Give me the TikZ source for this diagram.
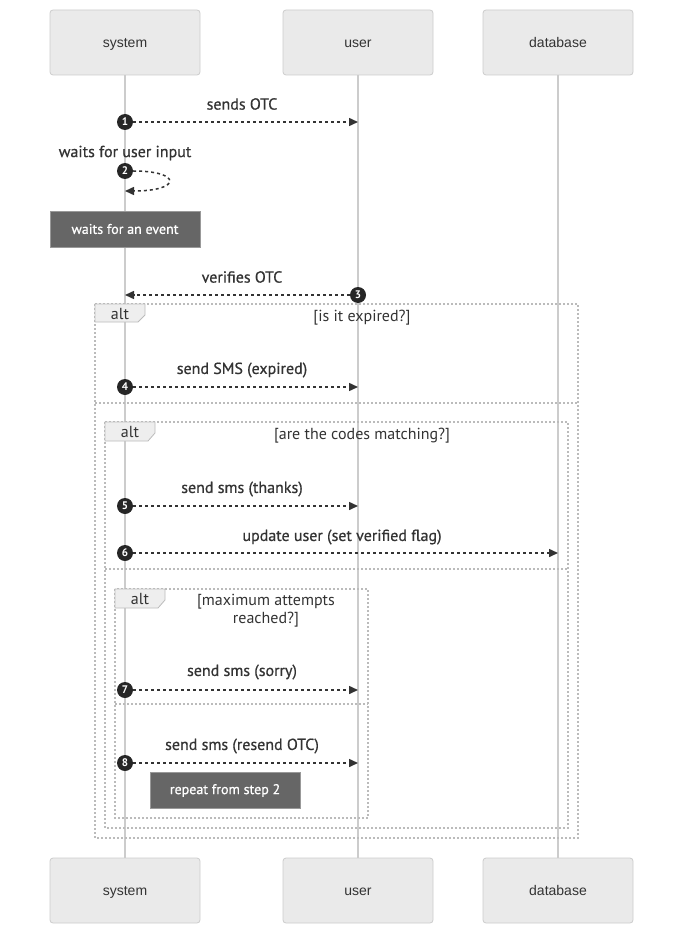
\documentclass[tikz,border=0pt]{standalone}
\usepackage{fontspec}
\setmainfont{PT Sans}
\newfontfamily\msgfont[FakeBold=0.7]{PT Sans}
\newfontfamily\actorfont{Liberation Sans}
\usetikzlibrary{arrows.meta}
\definecolor{actorfill}{HTML}{EAEAEA}
\definecolor{actorline}{HTML}{CCCCCC}
\definecolor{lifeline}{HTML}{CCCCCC}
\definecolor{msgline}{HTML}{333333}
\definecolor{notefill}{HTML}{666666}
\definecolor{notebord}{HTML}{999999}
\definecolor{altline}{HTML}{BBBBBB}
\definecolor{tabfill}{HTML}{EEEEEE}
\definecolor{txt}{HTML}{333333}
\tikzset{
  actor/.style={draw=actorline, fill=actorfill, rounded corners=3pt, line width=0.8pt,
    minimum width=150pt, minimum height=65pt, inner sep=0pt,
    text height=10pt, text depth=3pt,
    font=\actorfont\fontsize{14}{16}\selectfont, text=txt},
  life/.style={draw=lifeline, line width=1.3pt},
  msg/.style={draw=msgline, line width=1.5pt, dash pattern=on 3pt off 3pt,
    -{Triangle[length=9pt,width=8pt]}},
  num/.style={circle, fill=black!85, inner sep=0pt, minimum size=16pt,
    text=white, font=\bfseries\fontsize{11}{11}\selectfont},
  mlabel/.style={font=\msgfont\fontsize{16}{18}\selectfont, text=txt, inner sep=0pt},
  note/.style={draw=notebord, fill=notefill, line width=0.8pt, text=white,
    minimum height=36pt, inner sep=0pt, font=\msgfont\fontsize{14}{16}\selectfont},
  altbox/.style={draw=altline, line width=1.2pt, dash pattern=on 2pt off 2pt},
  alttab/.style={draw=altline, line width=0.8pt, fill=tabfill},
  altlabel/.style={font=\fontsize{16}{18}\selectfont, text=txt, inner sep=0pt},
}
\begin{document}
\begin{tikzpicture}[x=1pt, y=-1pt]
\useasboundingbox (0,0) rectangle (683,925);

% participants
\node[actor] (sysTop) at (125,42.5) {\raisebox{-1.5pt}{system}};
\node[actor] (userTop) at (358,42.5) {\raisebox{-1.5pt}{user}};
\node[actor] (dbTop) at (558,42.5) {\raisebox{-1.5pt}{database}};
\node[actor] (sysBot) at (125,890.5) {\raisebox{-1.5pt}{system}};
\node[actor] (userBot) at (358,890.5) {\raisebox{-1.5pt}{user}};
\node[actor] (dbBot) at (558,890.5) {\raisebox{-1.5pt}{database}};

% lifelines
\draw[life] (sysTop) -- (sysBot);
\draw[life] (userTop) -- (userBot);
\draw[life] (dbTop) -- (dbBot);

% alt frames
\draw[altbox] (95,304) rectangle (578,838);
\draw[alttab] (95,304) -- (145,304) -- (145,315) -- (138,322) -- (95,322) -- cycle;
\node[altlabel] (alt1) at (120,313.5) {alt};
\node[altlabel] (guard1) at (362,318) {[is it expired?]};
\draw[altbox] (95,403) -- (578,403);

\draw[altbox] (105,422) rectangle (568,828);
\draw[alttab] (105,422) -- (155,422) -- (155,433) -- (148,441) -- (105,441) -- cycle;
\node[altlabel] (alt2) at (130,431.5) {alt};
\node[altlabel] (guard2) at (362,436) {[are the codes matching?]};
\draw[altbox] (105,569) -- (568,569);

\draw[altbox] (115,589) rectangle (368,818);
\draw[alttab] (115,589) -- (165,589) -- (165,600) -- (158,608) -- (115,608) -- cycle;
\node[altlabel] (alt3) at (140,598.5) {alt};
\node[altlabel, align=center] (guard3) at (266,611) {[maximum attempts\\reached?]};
\draw[altbox] (115,704) -- (368,704);

% message 1
\node[mlabel] (l1) at (242,104) {sends OTC};
\coordinate (e1) at (358,122);
\node[num] (n1) at (125,122) {1};
\draw[msg] (n1) -- (e1);

% message 2 (self)
\node[mlabel] (l2) at (125,153) {waits for user input};
\coordinate (e2) at (125,191);
\node[num] (n2) at (125,171) {2};
\draw[msg] (n2.east) .. controls (182,171) and (182,191) .. (e2);

% note
\node[note, minimum width=150pt] (note1) at (125,229) {waits for an event};

% message 3
\node[mlabel] (l3) at (242,277) {verifies OTC};
\coordinate (e3) at (125,295);
\node[num] (n3) at (358,295) {3};
\draw[msg] (n3) -- (e3);

% message 4
\node[mlabel] (l4) at (242,370) {send SMS (expired)};
\coordinate (e4) at (358,387);
\node[num] (n4) at (125,387) {4};
\draw[msg] (n4) -- (e4);

% message 5
\node[mlabel] (l5) at (242,489) {send sms (thanks)};
\coordinate (e5) at (358,506);
\node[num] (n5) at (125,506) {5};
\draw[msg] (n5) -- (e5);

% message 6
\node[mlabel] (l6) at (342,537) {update user (set verified flag)};
\coordinate (e6) at (558,553);
\node[num] (n6) at (125,553) {6};
\draw[msg] (n6) -- (e6);

% message 7
\node[mlabel] (l7) at (242,672) {send sms (sorry)};
\coordinate (e7) at (358,690);
\node[num] (n7) at (125,690) {7};
\draw[msg] (n7) -- (e7);

% message 8
\node[mlabel] (l8) at (242,746) {send sms (resend OTC)};
\coordinate (e8) at (358,763);
\node[num] (n8) at (125,763) {8};
\draw[msg] (n8) -- (e8);

\node[note, minimum width=150pt] (note2) at (225,790.5) {repeat from step 2};
\end{tikzpicture}
\end{document}
